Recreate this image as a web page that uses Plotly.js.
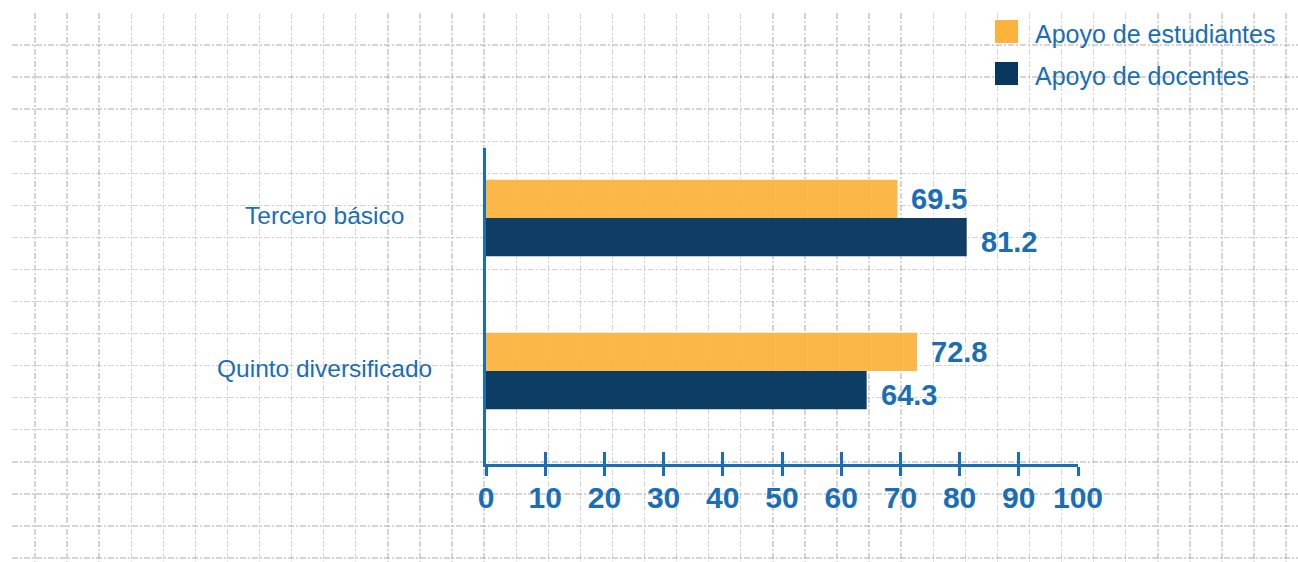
<!DOCTYPE html>
<html>
<head>
<meta charset="utf-8">
<script src="https://cdn.plot.ly/plotly-3.0.1.min.js"></script>
<style>html,body{margin:0;padding:0;background:#fff;} #chart{width:1298px;height:562px;}</style>
</head>
<body>
<div id="chart"></div>
<script>
// ---- data ----
const categories = ["Quinto diversificado", "Tercero básico"];
const seriesNames = ["Apoyo de estudiantes", "Apoyo de docentes"];
const estudiantes = [72.8, 69.5];
const docentes = [64.3, 81.2];
const tickValues = [0, 10, 20, 30, 40, 50, 60, 70, 80, 90, 100];

// ---- styles ----
const BLUE = "#1a6eb5";
const YELLOW = "#fbb33b";
const NAVY = "#07375f";
const FONT = "Liberation Sans, Arial, sans-serif";
const W = 1298, H = 562;

const traces = [
  {type: "scatter", x: [], y: [], xaxis: "x", yaxis: "y", showlegend: false, hoverinfo: "skip"},
  {type: "bar", orientation: "h", name: seriesNames[1], y: categories, x: docentes,
   xaxis: "x2", yaxis: "y2", marker: {color: NAVY}, opacity: 0.97, showlegend: false},
  {type: "bar", orientation: "h", name: seriesNames[0], y: categories, x: estudiantes,
   xaxis: "x2", yaxis: "y2", marker: {color: YELLOW}, opacity: 0.93, showlegend: false},
  {type: "scatter", mode: "markers", x: [null], y: [null], xaxis: "x3", yaxis: "y2",
   showlegend: false, hoverinfo: "skip"}
];

const annotations = [];
// value labels
const fmt = v => v.toFixed(1);
categories.forEach((c, i) => {
  annotations.push({xref: "x2", yref: "y2", x: estudiantes[i], y: c, text: fmt(estudiantes[i]),
    showarrow: false, xanchor: "left", yanchor: "middle", xshift: 12, yshift: 19,
    font: {family: FONT, size: 29, color: BLUE, weight: 700}});
  annotations.push({xref: "x2", yref: "y2", x: docentes[i], y: c, text: fmt(docentes[i]),
    showarrow: false, xanchor: "left", yanchor: "middle", xshift: 12, yshift: -24,
    font: {family: FONT, size: 29, color: BLUE, weight: 700}});
  // category labels
  annotations.push({xref: "paper", yref: "y2", x: 324 / W, y: c, text: c,
    showarrow: false, xanchor: "center", yanchor: "middle", yshift: 3,
    font: {family: FONT, size: 24.5, color: BLUE}});
});

// custom legend
const legendColors = [YELLOW, NAVY];
const shapes = [];
seriesNames.forEach((n, i) => {
  const yc = 31.5 + i * 42;
  shapes.push({type: "rect", xref: "paper", yref: "paper",
    x0: 995 / W, x1: 1018 / W, y0: 1 - (yc - 11.5) / H, y1: 1 - (yc + 11.5) / H,
    fillcolor: legendColors[i], line: {width: 0}});
  annotations.push({xref: "paper", yref: "paper", x: 1033 / W, y: 1 - (yc + 2.5) / H, text: n,
    showarrow: false, xanchor: "left", yanchor: "middle",
    font: {family: FONT, size: 25, color: BLUE}});
});

const xDom = [486 / W, 1078 / W];
const yDom = [1 - 464 / H, 1 - 148 / H];
const GRID = "rgba(170,160,160,0.45)";

const layout = {
  width: W, height: H,
  margin: {l: 0, r: 0, t: 0, b: 0, pad: 0},
  paper_bgcolor: "#ffffff",
  plot_bgcolor: "rgba(0,0,0,0)",
  showlegend: false,
  barmode: "group",
  bargap: 0.5,
  bargroupgap: 0,
  // background graph-paper grid
  xaxis: {domain: [12 / W, 1], range: [12, W], anchor: "y", showgrid: true,
    tick0: 35, dtick: 32.08, gridcolor: GRID, gridwidth: 1.4, griddash: "6px,2px,2px,2px",
    showticklabels: false, ticks: "", zeroline: false, showline: false, fixedrange: true},
  yaxis: {domain: [0, 1 - 12.5 / H], range: [H, 12.5], anchor: "x", showgrid: true,
    tick0: 13, dtick: 32.06, gridcolor: GRID, gridwidth: 1.4, griddash: "6px,2px,2px,2px",
    showticklabels: false, ticks: "", zeroline: false, showline: false, fixedrange: true},
  // main chart axes
  xaxis2: {domain: xDom, range: [0, 100], anchor: "y2", tickmode: "array", tickvals: tickValues,
    ticktext: tickValues.map(String),
    showline: true, linecolor: BLUE, linewidth: 3, ticks: "outside", ticklen: 9, tickwidth: 3,
    tickcolor: BLUE, showgrid: false, zeroline: false, ticklabelstandoff: -4,
    tickfont: {family: FONT, size: 30, color: BLUE, weight: 700}},
  xaxis3: {overlaying: "x2", range: [0, 100], anchor: "y2", side: "bottom", tickmode: "array",
    tickvals: tickValues, ticks: "inside", ticklen: 12, tickwidth: 3, tickcolor: BLUE,
    showticklabels: false, showgrid: false, zeroline: false, showline: false},
  yaxis2: {domain: yDom, anchor: "x2", type: "category", categoryarray: categories,
    categoryorder: "array", range: [-0.608, 1.458], showline: true, linecolor: BLUE, linewidth: 3,
    showticklabels: false, ticks: "", showgrid: false, zeroline: false},
  annotations: annotations,
  shapes: shapes
};

Plotly.newPlot("chart", traces, layout, {displayModeBar: false, staticPlot: true});
</script>
</body>
</html>
